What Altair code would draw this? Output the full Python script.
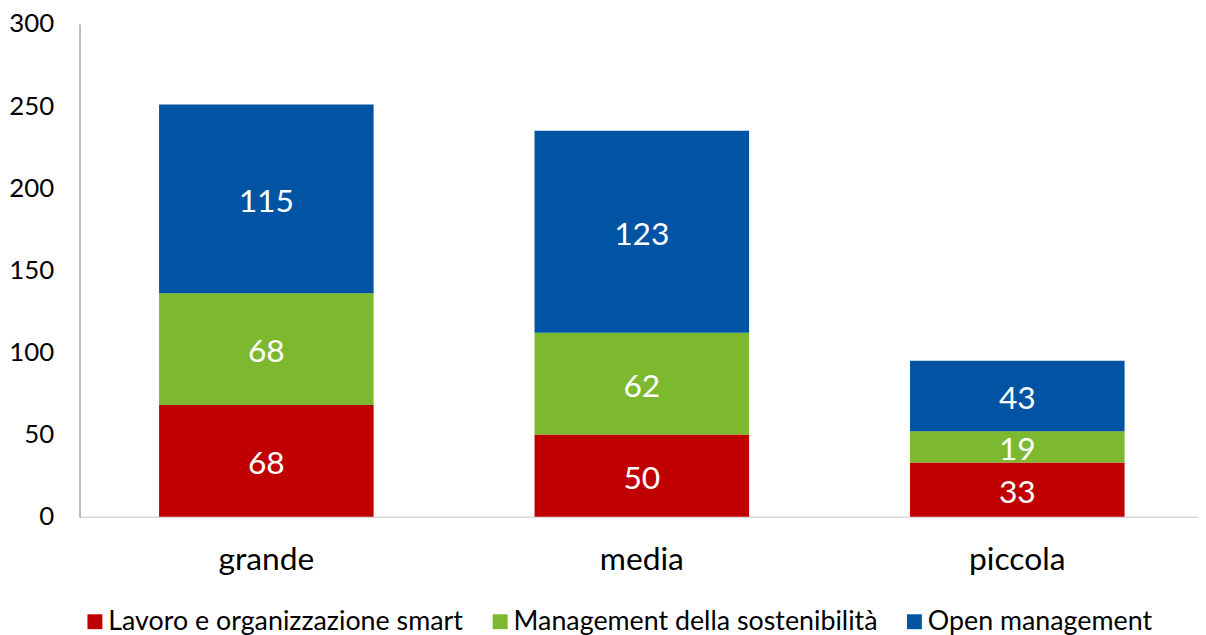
import altair as alt
import pandas as pd

categories = ["grande", "media", "piccola"]
series = ["Lavoro e organizzazione smart", "Management della sostenibilità", "Open management"]
lavoro = [68, 50, 33]
management = [68, 62, 19]
open_mgmt = [115, 123, 43]
colors = ["#C00000", "#7DB92E", "#0054A3"]

rows = []
for i, c in enumerate(categories):
    for k, (s, vals) in enumerate(zip(series, [lavoro, management, open_mgmt])):
        rows.append({"cat": c, "serie": s, "value": vals[i], "ord": k})
df = pd.DataFrame(rows)

FONT = "Lato"

base = alt.Chart(df).transform_stack(
    stack="value", groupby=["cat"], as_=["y0", "y1"], sort=[alt.SortField("ord")]
).transform_calculate(mid="(datum.y0 + datum.y1) / 2")

xscale = alt.Scale(paddingInner=0.4286, paddingOuter=0.2037, align=0.52, round=False)

x_enc = alt.X(
    "cat:N",
    sort=categories,
    scale=xscale,
    axis=alt.Axis(title=None, labelAngle=0, labelFontSize=32, labelFont=FONT,
                  labelColor="#000000", ticks=False, labelPadding=28,
                  domainColor="#D9D9D9", domainWidth=1.5),
)

bars = base.mark_bar().encode(
    x=x_enc,
    y=alt.Y("y0:Q", scale=alt.Scale(domain=[0, 300]),
            axis=alt.Axis(title=None, values=[0, 50, 100, 150, 200, 250, 300],
                          labelFontSize=26, labelFont=FONT, labelColor="#000000",
                          ticks=False, labelPadding=26, grid=False,
                          domainColor="#A6A6A6", domainWidth=1.5)),
    y2="y1:Q",
    color=alt.Color("serie:N", scale=alt.Scale(domain=series, range=colors),
                    legend=alt.Legend(title=None, orient="none", direction="horizontal",
                                      legendX=2, legendY=588, symbolType="square",
                                      symbolSize=225, symbolStrokeWidth=0,
                                      labelFontSize=27, labelFont=FONT, labelLimit=600,
                                      labelColor="#000000", labelOffset=0,
                                      columnPadding=23, padding=0)),
    order=alt.Order("ord:Q"),
)

labels = base.mark_text(color="white", fontSize=32, font=FONT, baseline="middle", dy=3).encode(
    x=alt.X("cat:N", sort=categories, scale=xscale),
    y="mid:Q",
    text="value:Q",
)

chart = (bars + labels).properties(
    width=1126, height=496,
    autosize=alt.AutoSizeParams(type="none"),
    padding={"left": 72, "top": 14, "right": 0, "bottom": 117},
).configure_view(stroke=None)

chart.save("out.html", embed_options={"renderer": "svg", "actions": False})
